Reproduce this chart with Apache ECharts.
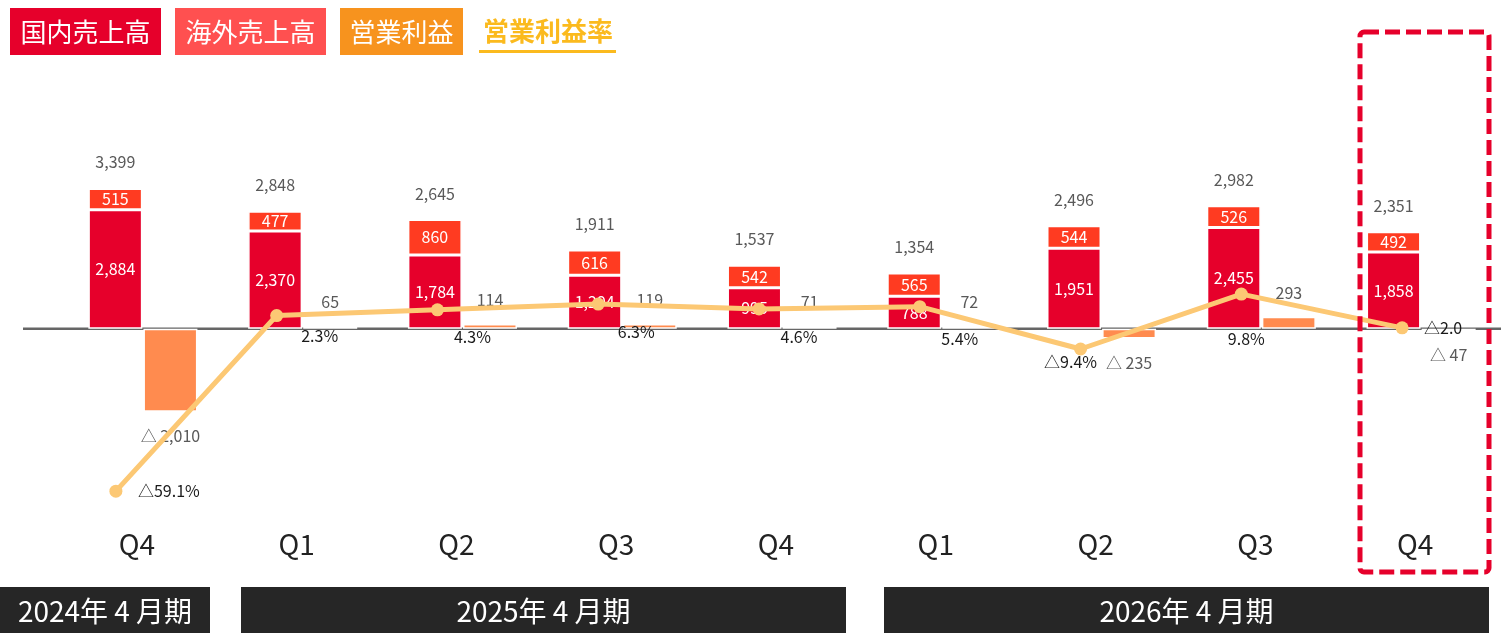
<!DOCTYPE html>
<html>
<head>
<meta charset="utf-8">
<script src="https://cdn.jsdelivr.net/npm/echarts@6/dist/echarts.min.js"></script>
<style>
  html, body { margin: 0; padding: 0; background: #fff; }
  #chart { width: 1501px; height: 633px; }
</style>
</head>
<body>
<div id="chart"></div>
<script>
const quarters = ['Q4', 'Q1', 'Q2', 'Q3', 'Q4', 'Q1', 'Q2', 'Q3', 'Q4']
const domestic = [2884, 2370, 1784, 1294, 995, 788, 1951, 2455, 1858]
const overseas = [515, 477, 860, 616, 542, 565, 544, 526, 492]
const totals = [3399, 2848, 2645, 1911, 1537, 1354, 2496, 2982, 2351]
const opProfit = [-2010, 65, 114, 119, 71, 72, -235, 293, -47]
const opMargin = [-59.1, 2.3, 4.3, 6.3, 4.6, 5.4, -9.4, 9.8, -2.0]
const periods = ['2024年 4 月期', '2025年 4 月期', '2026年 4 月期']

const FONT = '"Noto Sans CJK JP", "Noto Sans", sans-serif'
const C_DOM = '#e6002b'
const C_OVS = '#ff3b21'
const C_OP = '#ff8b4f'
const C_RATE = '#fcc874'

// 利益率ラベルの位置（点からのずらし）
const rateLabelOffset = [[53, 0], [43, 20], [35, 27], [38, 28], [40, 28], [40, 32], [-10, 13], [5, 45], [41, 0]]

const fmtNum = v => v.toLocaleString('en-US')
const fmtSigned = v => v < 0 ? '△ ' + fmtNum(-v) : fmtNum(v)

const chart = echarts.init(document.getElementById('chart'))

const gridTop = 81, gridH = 413, gridW = 1447, gridLeft = 63

const barBase = { type: 'bar', barWidth: 54, barGap: '2%', xAxisIndex: 0, yAxisIndex: 0 }
const border = { borderColor: '#fff', borderWidth: 1.5 }

chart.setOption({
  animation: false,
  textStyle: { fontFamily: FONT },
  grid: [
    { left: gridLeft, top: gridTop, width: gridW, height: gridH },
    { left: gridLeft - 27.5, top: gridTop, width: gridW, height: gridH },
  ],
  xAxis: [
    {
      type: 'category', data: quarters, gridIndex: 0,
      axisLine: { show: false, onZero: false }, axisTick: { show: false },
      axisLabel: { fontSize: 28, color: '#222', margin: 36, padding: [0, 12, 0, 0], fontFamily: FONT },
    },
    { type: 'category', data: quarters, gridIndex: 1, show: false },
  ],
  yAxis: [
    { type: 'value', gridIndex: 0, min: -4000, max: 6000, show: false, splitLine: { show: false } },
    { type: 'value', gridIndex: 1, min: -60.1, max: 84.3, show: false, splitLine: { show: false } },
  ],
  series: [
    {
      ...barBase, name: '国内売上高', stack: 'sales', data: domestic,
      itemStyle: { color: C_DOM, ...border },
      label: { show: true, position: 'inside', color: '#fff', fontSize: 16, formatter: p => fmtNum(p.value) },
    },
    {
      ...barBase, name: '海外売上高', stack: 'sales', data: overseas,
      itemStyle: { color: C_OVS, ...border },
      label: { show: true, position: 'inside', color: '#fff', fontSize: 16, formatter: p => fmtNum(p.value) },
    },
    {
      ...barBase, name: '合計', stack: 'sales', data: totals.map(() => 0),
      itemStyle: { color: 'transparent', borderWidth: 0 },
      label: { show: true, position: 'top', distance: 18, color: '#595959', fontSize: 16, formatter: p => fmtNum(totals[p.dataIndex]) },
    },
    {
      ...barBase, name: '営業利益',
      data: opProfit.map(v => ({ value: v, label: { position: v < 0 ? 'bottom' : 'top' } })),
      itemStyle: { color: C_OP, ...border },
      label: {
        show: true, color: '#595959', fontSize: 16, distance: 16,
        formatter: p => fmtSigned(p.value),
      },
    },
    {
      name: '営業利益率', type: 'line', xAxisIndex: 1, yAxisIndex: 1, z: 5,
      data: opMargin.map((v, i) => ({
        value: v,
        label: { offset: rateLabelOffset[i] },
      })),
      symbol: 'circle', symbolSize: 13,
      lineStyle: { color: C_RATE, width: 5 },
      itemStyle: { color: C_RATE },
      label: {
        show: true, position: 'inside', color: '#1a1a1a', fontSize: 16,
        formatter: p => {
          const v = p.value
          if (v < 0) return '△' + (-v).toFixed(1) + (p.dataIndex === 8 ? '' : '%')
          return v.toFixed(1) + '%'
        },
      },
    },
  ],
})

const y0 = chart.convertToPixel({ yAxisIndex: 0 }, 0)

const legendItems = [
  { text: '国内売上高', color: C_DOM, x: 10, w: 151 },
  { text: '海外売上高', color: '#ff5050', x: 175, w: 151 },
  { text: '営業利益', color: '#f7931e', x: 340, w: 123 },
]
const periodBoxes = [
  { x: 0, w: 210 }, { x: 241, w: 605 }, { x: 884, w: 605 },
]

const graphics = []
graphics.push({
  type: 'line', z: 0, silent: true,
  shape: { x1: 23, y1: y0, x2: 1501, y2: y0 },
  style: { stroke: '#666', lineWidth: 2.5 },
})
legendItems.forEach(l => {
  graphics.push({ type: 'rect', shape: { x: l.x, y: 8, width: l.w, height: 47 }, style: { fill: l.color } })
  graphics.push({
    type: 'text', x: l.x + l.w / 2, y: 32,
    style: { text: l.text, fill: '#fff', font: '26px ' + FONT, align: 'center', verticalAlign: 'middle' },
  })
})
graphics.push({
  type: 'text', x: 548, y: 31,
  style: { text: '営業利益率', fill: '#fbba1e', font: 'bold 26px ' + FONT, align: 'center', verticalAlign: 'middle' },
})
graphics.push({ type: 'rect', shape: { x: 479, y: 50, width: 137, height: 3 }, style: { fill: '#fbba1e' } })

periodBoxes.forEach((b, i) => {
  graphics.push({ type: 'rect', shape: { x: b.x, y: 587, width: b.w, height: 46 }, style: { fill: '#262626' } })
  graphics.push({
    type: 'text', x: b.x + b.w / 2, y: 611,
    style: { text: periods[i], fill: '#fff', font: '28px ' + FONT, align: 'center', verticalAlign: 'middle' },
  })
})

graphics.push({
  type: 'rect', z: 10, silent: true,
  shape: { x: 1360, y: 32, width: 129, height: 540, r: 4 },
  style: { fill: 'none', stroke: C_DOM, lineWidth: 5, lineDash: [15, 6] },
})

chart.setOption({ graphic: graphics })
</script>
</body>
</html>
